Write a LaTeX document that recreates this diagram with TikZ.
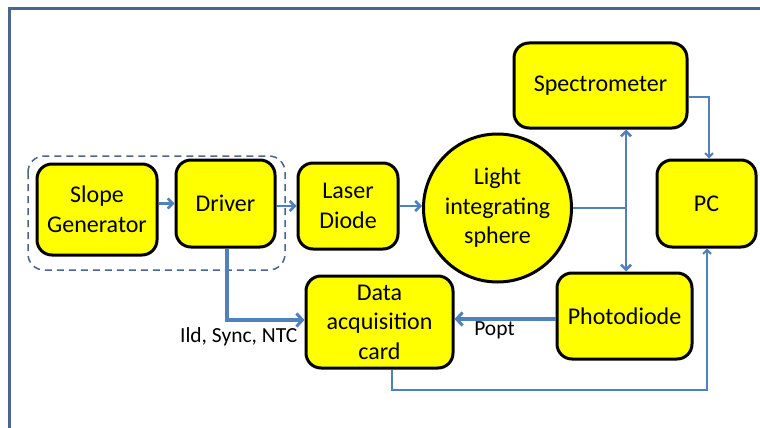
\documentclass[tikz,border=0pt]{standalone}
\usepackage{fontspec}
\setmainfont{Carlito}
\usetikzlibrary{arrows.meta,calc}
\definecolor{lnblue}{HTML}{4F81BD}
\definecolor{framec}{HTML}{4A6690}
\definecolor{boxyellow}{HTML}{FFFF00}
\tikzset{
  blk/.style={draw=black, line width=3pt, fill=boxyellow, rounded corners=15pt, align=center,
    font=\fontsize{24}{29.5}\selectfont, inner sep=0pt},
  sph/.style={draw=black, line width=3pt, fill=boxyellow, circle, align=center,
    font=\fontsize{24}{29.5}\selectfont, inner sep=0pt, minimum size=148pt},
  thickarr/.style={draw=lnblue, line width=3.5pt, -{Straight Barb[length=6pt,width=13pt,line width=3pt]}},
  medarr/.style={draw=lnblue, line width=2.5pt, -{Straight Barb[length=5pt,width=10pt,line width=2.5pt]}},
  thinarr/.style={draw=lnblue, line width=2pt, -{Straight Barb[length=4pt,width=8pt,line width=2pt]}},
  thinln/.style={draw=lnblue, line width=2pt},
  lbl/.style={font=\fontsize{21.5}{25}\selectfont, inner sep=0pt},
}
\begin{document}
\begin{tikzpicture}[x=1pt,y=-1pt]
\useasboundingbox (0,0) rectangle (760,428);
\fill[white] (0,0) rectangle (760,428);
% frame
\draw[framec, line width=3pt] (9,430) -- (9,9) -- (762,9);
% dashed group
\draw[framec, line width=1.5pt, dash pattern=on 7pt off 5pt, rounded corners=16pt] (28,156) rectangle (285,270);
% nodes
\node[blk, minimum width=120pt, minimum height=91pt] (slope) at (97,209.5) {Slope\\Generator};
\node[blk, minimum width=99pt, minimum height=87pt] (driver) at (225.5,203.5) {Driver};
\node[blk, minimum width=100pt, minimum height=86pt] (laser) at (348,206) {Laser\\Diode};
\node[sph] (sphere) at (497.5,208) {Light\\integrating\\sphere};
\node[blk, minimum width=173pt, minimum height=85pt] (spec) at (600.5,85.5) {Spectrometer};
\node[blk, minimum width=99pt, minimum height=87pt] (pc) at (706.5,203.5) {PC};
\node[blk, minimum width=135pt, minimum height=86pt] (pd) at (624.5,316) {Photodiode};
\node[blk, minimum width=147pt, minimum height=92pt] (daq) at (379.5,322) {Data\\acquisition\\card};
% connectors
\draw[medarr] (slope.east |- driver.west) -- (driver.west);
\draw[medarr] (driver.east |- laser.west) -- (laser.west);
\draw[medarr] (laser.east) -- (laser.east -| sphere.west);
\coordinate (split) at (626,208);
\draw[thinln] (sphere.east) -- (split);
\draw[medarr] (split) -- (split |- spec.south);
\draw[medarr] (split) -- (split |- pd.north);
\draw[thinarr] ([yshift=-11.5pt]spec.east) -| ([xshift=2.5pt]pc.north);
\draw[thickarr] ([xshift=1.5pt]driver.south) |- ([yshift=2pt]daq.west);
\node[lbl, anchor=east] (l1) at ([xshift=-7pt,yshift=-15pt]daq.west) {Ild, Sync, NTC};
\coordinate (pdl) at ([yshift=-3pt]pd.west);
\draw[thickarr] (pdl) -- (daq.east |- pdl);
\node[lbl] (l2) at (494.5,330) {Popt};
\draw[thinarr] ([xshift=12.5pt]daq.south) -- ++(0,20) -| ([xshift=0.5pt]pc.south);
\end{tikzpicture}
\end{document}
